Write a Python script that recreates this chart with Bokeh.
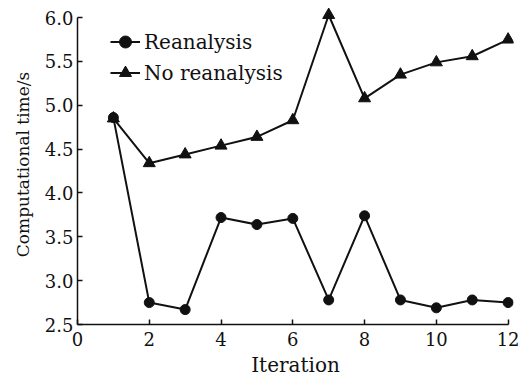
from bokeh.plotting import figure
from bokeh.models import FixedTicker, PrintfTickFormatter, Range1d, Legend
from bokeh.embed import file_html
from bokeh.resources import INLINE

iterations = [1, 2, 3, 4, 5, 6, 7, 8, 9, 10, 11, 12]
reanalysis = [4.86, 2.75, 2.67, 3.72, 3.64, 3.71, 2.78, 3.74, 2.78, 2.69, 2.78, 2.75]
no_reanalysis = [4.85, 4.34, 4.44, 4.54, 4.64, 4.83, 6.03, 5.08, 5.35, 5.49, 5.56, 5.75]
x_ticks = [0, 2, 4, 6, 8, 10, 12]
y_ticks = [2.5, 3.0, 3.5, 4.0, 4.5, 5.0, 5.5, 6.0]

FONT = "DejaVu Serif"
INK = "#111111"

p = figure(width=532, height=379, output_backend="svg", toolbar_location=None,
           x_range=Range1d(0, 12.15), y_range=Range1d(2.5, 6.15),
           min_border_left=77, min_border_right=19, min_border_top=4, min_border_bottom=55)
p.outline_line_color = None
p.xgrid.visible = False
p.ygrid.visible = False
p.background_fill_color = "white"
p.border_fill_color = "white"

l1 = p.line(iterations, reanalysis, line_color=INK, line_width=2)
s1 = p.scatter(iterations, reanalysis, marker="circle", size=10, fill_color=INK, line_color=INK)
l2 = p.line(iterations, no_reanalysis, line_color=INK, line_width=2)
s2 = p.scatter(iterations, no_reanalysis, marker="triangle", size=12, fill_color=INK, line_color=INK)

legend = Legend(items=[("Reanalysis", [l1, s1]), ("No reanalysis", [l2, s2])],
                location=(33, 236))
legend.label_text_font = FONT
legend.label_text_font_size = "20px"
legend.label_text_color = INK
legend.glyph_width = 30
legend.glyph_height = 31
legend.label_height = 31
legend.label_standoff = 4
legend.spacing = 0
legend.padding = 0
legend.margin = 0
legend.border_line_color = None
legend.background_fill_alpha = 0
p.add_layout(legend)

for ax in (p.xaxis[0], p.yaxis[0]):
    ax.axis_line_color = INK
    ax.axis_line_width = 1.5
    ax.major_tick_line_color = INK
    ax.major_tick_line_width = 1.5
    ax.major_tick_in = 5
    ax.major_tick_out = 0
    ax.minor_tick_line_color = None
    ax.major_label_text_font = FONT
    ax.major_label_text_font_size = "18px"
    ax.major_label_text_color = INK
    ax.axis_label_text_font = FONT
    ax.axis_label_text_font_style = "normal"
    ax.axis_label_text_color = INK

p.xaxis[0].ticker = FixedTicker(ticks=x_ticks)
p.xaxis[0].bounds = (0, 12)
p.xaxis[0].axis_label = "Iteration"
p.xaxis[0].axis_label_text_font_size = "20px"
p.xaxis[0].major_label_standoff = 7
p.xaxis[0].axis_label_standoff = 4

p.yaxis[0].ticker = FixedTicker(ticks=y_ticks)
p.yaxis[0].formatter = PrintfTickFormatter(format="%.1f")
p.yaxis[0].bounds = (2.5, 6.0)
p.yaxis[0].axis_label = "Computational time/s"
p.yaxis[0].axis_label_text_font_size = "17px"
p.yaxis[0].major_label_standoff = 4
p.yaxis[0].axis_label_standoff = 9

open("out.html", "w").write(file_html(p, INLINE))
